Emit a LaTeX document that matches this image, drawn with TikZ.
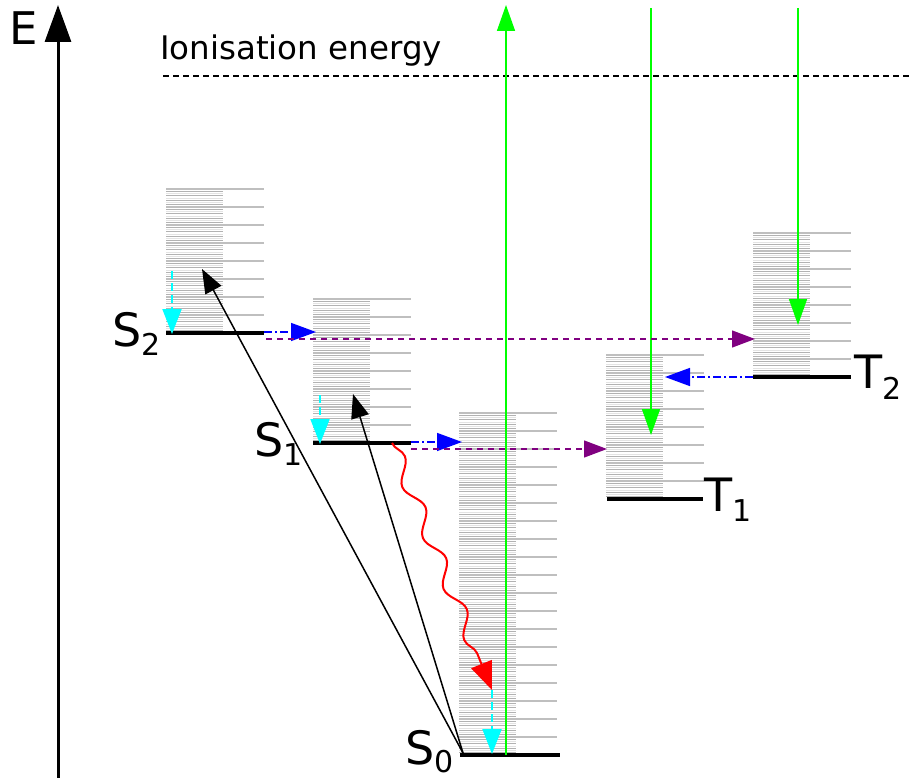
\documentclass[tikz,border=0pt]{standalone}
\usepackage{fontspec}
\setmainfont{DejaVu Sans}
\usetikzlibrary{arrows.meta,decorations.pathmorphing}
\definecolor{cgreen}{HTML}{00FF00}
\definecolor{ccyan}{HTML}{00FFFF}
\definecolor{cblue}{HTML}{0000FF}
\definecolor{cpurple}{HTML}{800080}
\definecolor{cred}{HTML}{FF0000}
\tikzset{
  lvl/.style={line width=4pt, black},
  vlong/.style={line width=1.2pt, color=black!25},
  vdark/.style={line width=0.8pt, color=black!30},
  vlight/.style={line width=0.8pt, color=black!11},
  axisline/.style={line width=3pt, -{Triangle[length=37pt,width=26pt]}},
  exc/.style={line width=1.5pt, black, -{Triangle[length=24pt,width=18pt]}},
  grn/.style={line width=1.5pt, cgreen, -{Triangle[length=26pt,width=18pt]}},
  vr/.style={line width=2pt, ccyan, dash pattern=on 8pt off 4pt, -{Triangle[length=25pt,width=19pt]}},
  ic/.style={line width=1.5pt, cblue, dash pattern=on 8pt off 3pt on 2pt off 3pt, -{Triangle[length=25pt,width=18pt]}},
  isc/.style={line width=1.3pt, cpurple, dash pattern=on 6pt off 5pt, -{Triangle[length=23pt,width=17pt]}},
  fl/.style={line width=2pt, cred, -{Triangle[length=28pt,width=22pt]}, decorate,
     decoration={snake, amplitude=7pt, segment length=55pt, post length=28pt}},
  ionline/.style={line width=1.2pt, black, dash pattern=on 6pt off 4pt},
  big/.style={inner sep=0pt, anchor=base west, font=\fontsize{46}{46}\selectfont},
}
\newcommand\sublab[2]{\raisebox{#2}{\fontsize{30}{30}\selectfont #1}}
\newcommand\vibstack[3]{%
  \pgfmathtruncatemacro\nsh{#3*8-1}%
  \foreach \k in {1,...,\nsh}{%
    \ifodd\k\relax \draw[vdark] (#1,#2-2.25*\k) -- ++(57,0);%
    \else \draw[vlight] (#1,#2-2.25*\k) -- ++(57,0);\fi}%
  \foreach \i in {1,...,#3}{\draw[vlong] (#1,#2-18*\i) -- ++(98,0);}%
}
\begin{document}
\begin{tikzpicture}[x=1pt,y=-1pt]
\useasboundingbox (0,0) rectangle (913,778);
% energy axis
\coordinate (axb) at (58,778);
\coordinate (axt) at (58,5);
\draw[axisline] (axb) -- (axt);
\node[inner sep=0pt, font=\fontsize{45}{45}\selectfont] (E) at (24,28) {E};
% ionisation
\node[inner sep=0pt, anchor=base west, font=\fontsize{32.5}{32.5}\selectfont] (ion) at (160,60) {Ionisation energy};
\coordinate (ion1) at (163,76);
\coordinate (ion2) at (910,76);
\draw[ionline] (ion1) -- (ion2);
% vibrational stacks
\vibstack{166}{333}{8}
\vibstack{313}{443}{8}
\vibstack{459}{755}{19}
\vibstack{606}{499}{8}
\vibstack{753}{377}{8}
% levels
\coordinate (S2a) at (166,333); \coordinate (S2b) at (264,333);
\coordinate (S1a) at (313,443); \coordinate (S1b) at (411,443);
\coordinate (S0a) at (460,755); \coordinate (S0b) at (560,755);
\coordinate (T1a) at (607,499); \coordinate (T1b) at (703,499);
\coordinate (T2a) at (753,377); \coordinate (T2b) at (851,377);
\draw[lvl] (S2a) -- (S2b);
\draw[lvl] (S1a) -- (S1b);
\draw[lvl] (S0a) -- (S0b);
\draw[lvl] (T1a) -- (T1b);
\draw[lvl] (T2a) -- (T2b);
% labels
\node[big] (lS2) at (112,346) {S\sublab{2}{-9pt}};
\node[big] (lS1) at (254,456) {S\sublab{1}{-9pt}};
\node[big] (lS0) at (405,764) {S\sublab{0}{-8pt}};
\node[big] (lT1) at (704,511) {T\sublab{1}{-10pt}};
\node[big] (lT2) at (854,388) {T\sublab{2}{-11pt}};
% absorption / excitation
\coordinate (ex0) at (463,753);
\coordinate (exS2) at (202,269);
\coordinate (exS1) at (353,394);
\draw[exc] (ex0) -- (exS2);
\draw[exc] (ex0) -- (exS1);
% green arrows
\coordinate (g0) at (506,755); \coordinate (gtop) at (506,5);
\coordinate (g1s) at (651,8); \coordinate (g1e) at (651,435);
\coordinate (g2s) at (798,8); \coordinate (g2e) at (798,325);
\draw[grn] (g0) -- (gtop);
\draw[grn] (g1s) -- (g1e);
\draw[grn] (g2s) -- (g2e);
% vibrational relaxation
\coordinate (c2s) at (172,271); \coordinate (c2e) at (172,334);
\coordinate (c1s) at (320,395); \coordinate (c1e) at (320,444);
\coordinate (c0s) at (492,690); \coordinate (c0e) at (492,754);
\draw[vr] (c2s) -- (c2e);
\draw[vr] (c1s) -- (c1e);
\draw[vr] (c0s) -- (c0e);
% fluorescence
\coordinate (r0) at (392,443);
\draw[fl] (r0) -- (c0s);
% internal conversion
\coordinate (b2s) at (264,332); \coordinate (b2e) at (316,332);
\coordinate (b1s) at (411,442); \coordinate (b1e) at (462,442);
\coordinate (bTs) at (753,377); \coordinate (bTe) at (665,377);
\draw[ic] (b2s) -- (b2e);
\draw[ic] (b1s) -- (b1e);
\draw[ic] (bTs) -- (bTe);
% intersystem crossing
\coordinate (p2s) at (266,339); \coordinate (p2e) at (755,339);
\coordinate (p1s) at (411,449); \coordinate (p1e) at (607,449);
\draw[isc] (p2s) -- (p2e);
\draw[isc] (p1s) -- (p1e);
\end{tikzpicture}
\end{document}
